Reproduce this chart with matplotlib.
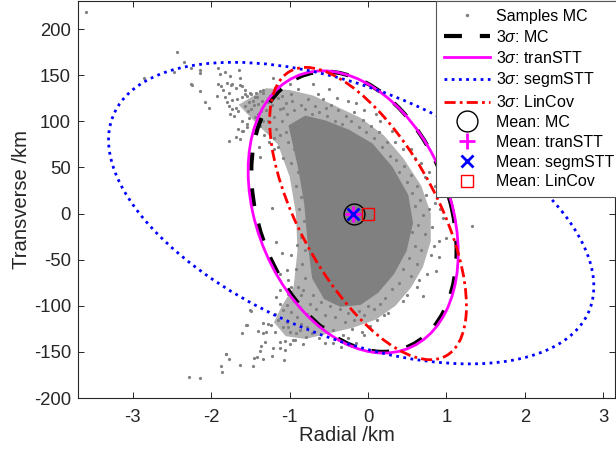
import numpy as np
import matplotlib
matplotlib.use("Agg")
import matplotlib.pyplot as plt
from matplotlib.patches import Ellipse, Polygon
from matplotlib.lines import Line2D

# --- Monte Carlo samples, (radial km, transverse km) ---
# sparse tail towards the upper left
tail_up = [(-3.60, 218.6), (-2.86, 146.9), (-2.44, 175.6), (-2.35, 164), (-2.48, 154), (-2.26, 158),
           (-2.14, 155.5), (-2.14, 152), (-2.26, 141), (-2.24, 139.6), (-2.15, 133), (-2.08, 121.5),
           (-2.03, 114), (-1.91, 157.7), (-1.89, 151), (-1.83, 153), (-1.76, 149), (-1.64, 155.5),
           (-1.63, 147.5), (-1.91, 141), (-1.87, 138.5), (-1.80, 142), (-1.75, 139.6), (-1.73, 141),
           (-1.85, 134), (-1.78, 131), (-1.68, 136), (-1.63, 139.6), (-1.57, 134), (-1.93, 127.7),
           (-1.83, 126), (-1.80, 121.5), (-1.74, 123), (-1.67, 124), (-1.61, 126), (-1.55, 127.7),
           (-1.49, 130), (-1.43, 131), (-1.38, 133), (-1.34, 134), (-1.78, 117), (-1.74, 113),
           (-1.69, 115), (-1.76, 108.5), (-1.71, 106), (-1.66, 111.5), (-1.57, 117), (-1.52, 120.5),
           (-1.53, 111.5), (-1.47, 122), (-1.42, 126), (-1.52, 103.5), (-1.61, 100.6), (-1.66, 91.6),
           (-1.61, 89.8), (-1.55, 93.4), (-1.68, 82.6), (-1.78, 79), (-1.63, 80.8), (-1.39, 71.8),
           (-1.38, 61.7), (-1.21, 147.5), (-0.64, 129.5), (-0.54, 115), (-1.61, 138.5), (-1.57, 129.5),
           (-1.51, 131), (-1.44, 126), (-1.34, 131), (-1.40, 118.7), (-1.49, 113.3), (-1.36, 111.5),
           (-1.27, 120.5), (-1.44, 104.2), (-1.34, 100.6), (-1.55, 97), (-1.60, 89.8), (-1.45, 118),
           (-1.40, 108), (-1.35, 122), (-1.30, 112), (-1.28, 100), (-1.25, 128), (-1.22, 118),
           (-1.20, 105), (-1.18, 92), (-1.15, 125), (-1.12, 113), (-1.10, 100), (-1.05, 120),
           (-1.03, 108), (-0.98, 130), (-1.38, 95), (-1.33, 85), (-1.26, 78), (-1.20, 70)]

# sparse tail towards the lower left
tail_low = [(-2.28, -177), (-2.14, -178), (-1.87, -165.6), (-1.86, -172), (-1.81, -152.6), (-1.77, -158),
            (-1.63, -163.7), (-1.61, -130), (-1.56, -121), (-1.49, -106), (-1.46, -157), (-1.42, -156),
            (-1.47, -165.6), (-1.34, -158), (-1.38, -149), (-1.36, -143.6), (-1.32, -139), (-1.41, -127.7),
            (-1.34, -118.7), (-1.34, -130), (-1.30, -128.5), (-1.27, -119.4), (-1.24, -121), (-1.19, -128.5),
            (-1.21, -145.8), (-1.22, -154.8), (-1.12, -139), (-1.12, -145.8), (-1.06, -138.5), (-1.07, -159),
            (-1.06, -147.5), (-1.00, -141), (-0.96, -137.4), (-0.93, -136.7), (-0.83, -141), (-0.79, -133.9),
            (-1.19, -108.5), (-1.15, -115.8), (-1.08, -123), (-1.02, -123), (-1.00, -128.5), (-0.92, -130),
            (-1.04, -117.6), (-1.17, -90.5), (-1.12, -97.7), (-1.09, -105), (-1.04, -99.6), (-0.98, -106.8),
            (-0.91, -112), (-0.85, -119.4), (-0.87, -126), (-0.78, -123), (-1.12, -83.3), (-1.02, -86.9),
            (-0.98, -79.8), (-0.93, -92.3), (-0.83, -83.3), (-0.87, -101), (-0.78, -108.5), (-1.51, -105),
            (-1.55, -121), (-1.81, -151.8), (-1.22, 6.2), (-1.18, -30.3), (-1.10, -43), (-1.04, -61.7),
            (-0.91, -34.6), (-1.02, -72.5), (-1.12, -65), (1.32, -14)]

# fringe points round the dense core
fringe = [(-1.08, 115), (-0.97, 122), (-0.94, 112), (-0.90, 100), (-0.86, 118), (-0.80, 113), (-0.77, 124),
          (-0.72, 108), (-0.68, 117), (-0.62, 110), (-0.58, 124), (-0.52, 106), (-0.47, 118), (-0.42, 100),
          (-0.38, 112), (-0.33, 97), (-0.28, 106), (-0.22, 100), (-0.18, 110), (-0.12, 94), (-0.07, 102),
          (-0.02, 88), (0.04, 95), (0.08, 82), (0.14, 88), (0.18, 72), (0.24, 78), (0.28, 62), (-0.90, 135),
          (-0.70, 140), (-1.10, 128), (-0.40, 125), (-0.15, 120), (0.10, 108), (0.30, 90), (-1.00, 140),
          (-1.15, 138), (0.36, 58), (0.40, 45), (0.46, 52), (0.50, 34), (0.55, 42), (0.56, 22), (0.62, 30),
          (0.60, 8), (0.66, 15), (0.70, -2), (0.64, -12), (0.74, 20), (0.78, 5), (0.72, -22), (0.56, -20),
          (0.60, -35), (0.68, -40), (0.52, -48), (0.62, -55), (0.45, -60), (0.55, -68), (0.40, -75),
          (0.82, -15), (0.86, 12), (0.90, -30), (0.80, -45), (0.45, 70), (0.60, 60), (0.72, 40), (0.85, 30),
          (0.95, -5), (0.75, -65), (0.70, -89), (0.62, -80), (0.50, -88), (0.68, 55), (0.91, -47),
          (0.87, -62), (1.00, -27), (0.30, -82), (0.22, -92), (0.15, -98), (0.08, -104), (0.00, -100),
          (-0.05, -110), (-0.12, -106), (-0.18, -115), (-0.25, -108), (-0.30, -118), (-0.36, -104),
          (-0.42, -112), (-0.48, -100), (-0.55, -110), (-0.60, -96), (-0.66, -104), (-0.70, -88),
          (-0.74, -98), (0.12, -115), (0.02, -122), (-0.08, -128), (-0.20, -125), (-0.32, -132),
          (-0.45, -126), (-0.58, -122), (-0.68, -118), (-0.78, -110), (-0.15, -140), (-0.35, -145),
          (-0.55, -140), (-0.72, -130), (0.20, -110), (-0.25, -135), (-0.62, -135), (-0.80, -70),
          (-0.84, -55), (-0.80, -40), (-0.86, -25), (-0.82, -8), (-0.88, 5), (-0.85, 18), (-0.92, 30),
          (-0.90, 45), (-0.98, 55), (-0.95, 70), (-1.02, 78), (-1.05, 88), (-0.90, -80), (-0.95, -95),
          (-0.86, -88), (-0.92, -60), (-0.98, -45), (-1.08, 60), (-1.15, 72), (-1.12, 85), (-1.20, 82),
          (0.88, 20), (0.84, -35), (0.92, 5), (0.78, 45), (0.55, 70), (0.35, 78), (0.15, 100), (-0.05, 112),
          (-0.25, 122), (-0.5, 135), (0.65, -72), (0.45, -95), (0.25, -108), (-0.05, -132), (-0.45, -140)]

# outline of the medium density part of the sample cloud
mid_x = [-1.65, -1.30, -1.00, -0.70, -0.40, -0.10, 0.20, 0.45, 0.68, 0.80, 0.80, 0.70, 0.55, 0.35,
         0.10, -0.20, -0.50, -0.80, -1.05, -1.20, -1.10, -0.95, -0.90, -0.92, -1.00, -1.15, -1.45]
mid_y = [118, 136, 134, 128, 116, 104, 85, 60, 30, 0, -30, -58, -80, -100, -115, -124, -130, -136,
         -133, -118, -100, -80, -40, 0, 40, 75, 100]

# outline of the solid part of the sample cloud
core_x = [-1.00, -0.80, -0.55, -0.25, 0.05, 0.30, 0.50, 0.56, 0.48, 0.32, 0.12, -0.10, -0.35, -0.55,
          -0.70, -0.76, -0.80, -0.88]
core_y = [95, 105, 100, 90, 75, 50, 20, -10, -40, -65, -85, -98, -100, -92, -70, -30, 10, 50]

# 3-sigma ellipses: centre, 3-sigma extent along each axis, correlation
ell_labels = ["3$\\sigma$: MC", "3$\\sigma$: tranSTT", "3$\\sigma$: segmSTT", "3$\\sigma$: LinCov"]
ell_cx = [-0.18, -0.19, -0.215, 0.0]
ell_cy = [2.0, 1.75, 0.5, 0.0]
ell_sx = [1.31, 1.34, 3.095, 1.255]
ell_sy = [152.0, 153.0, 163.5, 158.5]
ell_rho = [-0.28, -0.29, -0.486, -0.633]

# estimated means
mean_labels = ["Mean: MC", "Mean: tranSTT", "Mean: segmSTT", "Mean: LinCov"]
mean_x = [-0.18, -0.19, -0.19, 0.0]
mean_y = [0.0, 0.0, 0.0, 0.0]


def cov_ellipse(cx, cy, sx, sy, rho, **kw):
    cov = np.array([[sx * sx, rho * sx * sy], [rho * sx * sy, sy * sy]])
    vals, vecs = np.linalg.eigh(cov)
    ang = np.degrees(np.arctan2(vecs[1, 1], vecs[0, 1]))
    return Ellipse((cx, cy), 2 * np.sqrt(vals[1]), 2 * np.sqrt(vals[0]), angle=ang, fill=False, **kw)


def main():
    plt.rcParams['font.family'] = ['Liberation Sans', 'DejaVu Sans']
    plt.rcParams['mathtext.fontset'] = 'custom'
    plt.rcParams['mathtext.rm'] = 'Liberation Sans'
    plt.rcParams['mathtext.it'] = 'Liberation Sans:italic'
    plt.rcParams['axes.unicode_minus'] = False
    dark = '#262626'
    grey = '#808080'

    fig = plt.figure(figsize=(6.16, 4.57), dpi=100)
    ax = fig.add_axes([0.1266, 0.1291, 0.8718, 0.8687])

    # samples
    ax.add_patch(Polygon(np.column_stack([mid_x, mid_y]), closed=True, facecolor=grey,
                         edgecolor='none', alpha=0.6, zorder=1))
    ax.add_patch(Polygon(np.column_stack([core_x, core_y]), closed=True, facecolor=grey,
                         edgecolor=grey, lw=1.5, zorder=1.1))
    pts = np.array(tail_up + tail_low + fringe)
    ax.plot(pts[:, 0], pts[:, 1], 'o', color=grey, ms=2.3, mew=0, zorder=1.2)

    # ellipses
    styles = [dict(color='black', lw=3, ls=(0, (4.3, 4.3))),
              dict(color='#FF00FF', lw=2, ls='-'),
              dict(color='#0000FF', lw=2, ls=(0, (1, 1.6))),
              dict(color='#FF0000', lw=2, ls=(0, (4, 1.5, 1, 1.5)))]
    for i in range(4):
        st = styles[i]
        ax.add_patch(cov_ellipse(ell_cx[i], ell_cy[i], ell_sx[i], ell_sy[i], ell_rho[i],
                                 edgecolor=st['color'], lw=st['lw'], linestyle=st['ls'], zorder=2 + i))

    # means
    mk = [dict(marker='o', color='black', ms=15, mew=1, mfc='none'),
          dict(marker='+', color='#FF00FF', ms=11, mew=2, mfc='none'),
          dict(marker='x', color='#0000FF', ms=8, mew=2, mfc='none'),
          dict(marker='s', color='#FF0000', ms=8.5, mew=1, mfc='none')]
    for i in range(4):
        ax.plot(mean_x[i], mean_y[i], linestyle='none', zorder=10, **mk[i])

    ax.set_xlim(-3.7, 3.15)
    ax.set_ylim(-200, 230.5)
    ax.set_xticks([-3, -2, -1, 0, 1, 2, 3])
    ax.set_yticks(np.arange(-200, 201, 50))
    ax.tick_params(direction='in', top=True, right=True, length=4.5, width=0.7,
                   labelsize=13.3, colors=dark)
    ax.tick_params(axis='x', pad=8)
    ax.tick_params(axis='y', pad=5)
    for s in ax.spines.values():
        s.set_color(dark)
        s.set_linewidth(0.8)
    ax.set_xlabel("Radial /km", fontsize=14.6, color=dark, labelpad=0)
    ax.set_ylabel("Transverse /km", fontsize=14.6, color=dark, labelpad=2)

    handles = [Line2D([], [], ls='none', marker='o', color=grey, ms=2.5, mew=0)]
    for st in styles:
        handles.append(Line2D([], [], color=st['color'], lw=st['lw'], ls=st['ls']))
    for m in mk:
        handles.append(Line2D([], [], ls='none', **m))
    labels = ["Samples MC"] + ell_labels + mean_labels
    leg = ax.legend(handles, labels, loc='upper right', bbox_to_anchor=(1.014, 1.0),
                    borderaxespad=0, fontsize=11.5, handlelength=2.9, handletextpad=0.4,
                    labelspacing=0.3, borderpad=0.5, fancybox=False, framealpha=1)
    leg.get_frame().set_edgecolor('#555555')
    leg.get_frame().set_linewidth(0.8)
    leg.set_zorder(20)

    fig.savefig("out.png", dpi=100)
    plt.close(fig)


if __name__ == "__main__":
    main()
